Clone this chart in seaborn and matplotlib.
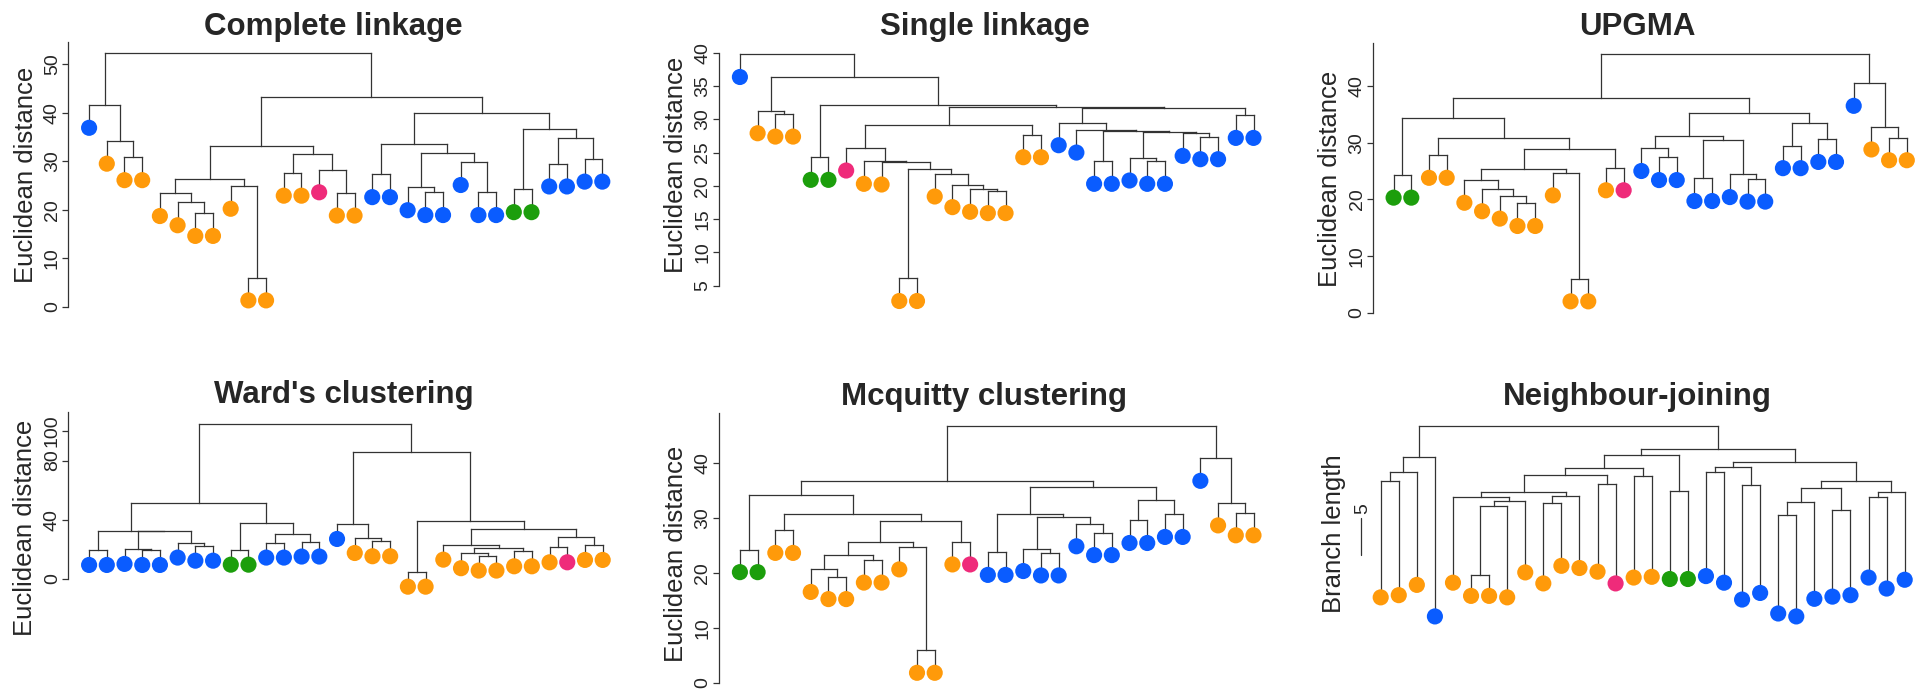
import numpy as np
import pandas as pd
import matplotlib
matplotlib.use("Agg")
import matplotlib.pyplot as plt
import seaborn as sns
from matplotlib.collections import LineCollection

# ---------------- data ----------------
# Trees: internal node = [merge height, left child, right child]; leaf = colour code
# b = blue, o = orange, g = green, p = pink
titles = ["Complete linkage", "Single linkage", "UPGMA",
          "Ward's clustering", "Mcquitty clustering", "Neighbour-joining"]
y_labels = ["Euclidean distance"] * 5 + ["Branch length"]

complete_tree = [52.3,
    [41.6, 'b', [34.2, 'o', [30.8, 'o', 'o']]],
    [43.2,
        [33.1,
            [26.3,
                [23.4, 'o', [21.5, 'o', [19.3, 'o', 'o']]],
                [24.9, 'o', [6.0, 'o', 'o']]],
            [31.4,
                [27.6, 'o', 'o'],
                [28.3, 'p', [23.5, 'o', 'o']]]],
        [40.0,
            [33.5,
                [27.3, 'b', 'b'],
                [31.8,
                    [24.6, 'b', [23.6, 'b', 'b']],
                    [29.8, 'b', [23.6, 'b', 'b']]]],
            [36.7,
                [24.2, 'g', 'g'],
                [34.9, [29.5, 'b', 'b'], [30.5, 'b', 'b']]]]]]
complete_hang = 4.7
complete_ticks = [0, 10, 20, 30, 40, 50]

single_tree = [39.75,
    'b',
    [36.4,
        [31.3, 'o', [30.8, 'o', 'o']],
        [32.2,
            [24.3, 'g', 'g'],
            [31.9,
                [29.1,
                    [25.7, 'p',
                        [23.7, 'o',
                            [23.6, 'o',
                                [22.6, [6.1, 'o', 'o'],
                                    [21.8, 'o', [20.2, 'o', [19.5, 'o', [19.3, 'o', 'o']]]]]]]],
                    [27.7, 'o', 'o']],
                [31.7,
                    [29.5, 'b',
                        [28.4, 'b',
                            [28.3, [23.7, 'b', 'b'],
                                [28.1, [24.2, 'b', [23.7, 'b', 'b']],
                                    [27.9, 'b', [27.4, 'b', 'b']]]]]],
                    [30.6, 'b', 'b']]]]]]
single_hang = 3.4
single_ticks = [5, 10, 15, 20, 25, 30, 35, 40]

upgma_tree = [45.6,
    [37.8,
        [34.3,
            [24.3, 'g', 'g'],
            [30.8,
                [27.8, 'o', 'o'],
                [28.9,
                    [25.4,
                        [23.4, 'o', [21.9, 'o', [20.6, 'o', [19.3, 'o', 'o']]]],
                        [24.7, 'o', [6.0, 'o', 'o']]],
                    [25.6, 'o', 'p']]]],
        [35.3,
            [31.1,
                [29.0, 'b', [27.4, 'b', 'b']],
                [30.5, [23.7, 'b', 'b'], [24.4, 'b', [23.6, 'b', 'b']]]],
            [33.4, [29.5, 'b', 'b'], [30.6, 'b', 'b']]]],
    [40.5, 'b', [32.8, 'o', [30.9, 'o', 'o']]]]
upgma_hang = 4.0
upgma_ticks = [0, 10, 20, 30, 40]

ward_tree = [104.5,
    [51.5,
        [32.5,
            [19.4, 'b', 'b'],
            [32.1,
                [20.1, 'b', [19.4, 'b', 'b']],
                [24.4, 'b', [22.3, 'b', 'b']]]],
        [37.9,
            [19.6, 'g', 'g'],
            [30.2, [24.4, 'b', 'b'], [25.1, 'b', 'b']]]],
    [85.8,
        [37.0, 'b', [27.5, 'o', [25.3, 'o', 'o']]],
        [39.3,
            [4.7, 'o', 'o'],
            [33.4,
                [23.0, 'o', [20.8, [17.2, 'o', [15.6, 'o', 'o']], [18.5, 'o', 'o']]],
                [28.4, [21.2, 'o', 'p'], [22.8, 'o', 'o']]]]]]
ward_hang = 10.1
ward_ticks = [0, 40, 80, 100]

mcquitty_tree = [46.7,
    [36.7,
        [34.2,
            [24.2, 'g', 'g'],
            [30.6,
                [27.7, 'o', 'o'],
                [29.4,
                    [25.5,
                        [23.3, [20.6, 'o', [19.3, 'o', 'o']], [22.3, 'o', 'o']],
                        [24.7, 'o', [5.9, 'o', 'o']]],
                    [25.6, 'o', 'p']]]],
        [35.5,
            [30.7,
                [23.7, 'b', 'b'],
                [30.1,
                    [24.4, 'b', [23.6, 'b', 'b']],
                    [28.9, 'b', [27.3, 'b', 'b']]]],
            [33.3, [29.5, 'b', 'b'], [30.6, 'b', 'b']]]],
    [40.8, 'b', [32.7, 'o', [30.9, 'o', 'o']]]]
mcquitty_hang = 4.1
mcquitty_ticks = [0, 10, 20, 30, 40]

nj_tree = [27.4,
    [23.2, [21.1, [19.8, 'o', 'o'], 'o'], 'b'],
    [24.2,
        [23.4,
            [21.7,
                [20.7,
                    [18.4,
                        [17.7, 'o', [17.2, [16.4, [7.1, 'o', 'o'], 'o'], 'o']],
                        [17.8, [16.8, 'o', 'o'], 'o']],
                    [19.4, 'o', 'p']],
                [20.5, 'o', 'o']],
            [18.5, 'g', 'g']],
        [22.4,
            [21.8, [21.1, 'b', 'b'], [19.3, 'b', 'b']],
            [19.8,
                [18.9, [17.0, [15.2, 'b', 'b'], 'b'], [15.9, 'b', 'b']],
                [18.3, [17.7, 'b', 'b'], 'b']]]]]
nj_leaf_heights = [4.0, 4.3, 5.7, 1.4, 6.0, 4.2, 4.2, 4.0, 7.4, 5.9, 8.3, 8.0, 7.5, 5.9,
                   6.7, 6.8, 6.5, 6.5, 6.9, 6.0, 3.7, 4.6, 1.8, 1.4, 3.8, 4.1, 4.3, 6.7,
                   5.2, 6.4]
nj_scale_bar = 5
nj_scale_bar_bottom = 9.8

# ---------------- styling / layout (pixels in 1930x693 figure) ----------------
palette = {'b': '#0a5cff', 'o': '#ff9a0a', 'g': '#1c9e0c', 'p': '#ef2b7a'}
LINE_COLOR = '#333333'
W, H = 1930, 693

layouts = [
    dict(spine=68.4, leaf1=89.1, leafN=602.3, ya=(0, 306.7), yb=(50, 64.3), top=38, bottom=322,
         spine_lo=0, spine_top=41.7, title=(333.3, 35), ylab=(25.7, 175)),
    dict(spine=718.8, leaf1=739.9, leafN=1253.5, ya=(5, 285.7), yb=(40, 52.7), top=38, bottom=322,
         spine_lo=5, spine_top=52.7, title=(985.3, 35), ylab=(675.7, 165)),
    dict(spine=1373.3, leaf1=1393.6, leafN=1906.8, ya=(0, 312.7), yb=(40, 86.0), top=38, bottom=322,
         spine_lo=0, spine_top=42.7, title=(1637.3, 35), ylab=(1329.7, 179)),
    dict(spine=68.4, leaf1=89.1, leafN=602.7, ya=(0, 578.7), yb=(100, 431.0), top=408, bottom=600,
         spine_lo=0, spine_top=411.7, title=(343.4, 403), ylab=(24.9, 527.5)),
    dict(spine=718.8, leaf1=739.9, leafN=1253.5, ya=(0, 682.7), yb=(40, 462.7), top=410, bottom=692,
         spine_lo=0, spine_top=413.3, title=(984.0, 405), ylab=(676.0, 553.7)),
    dict(spine=1361.3, leaf1=1380.7, leafN=1904.7, ya=(0, 626.7), yb=(20, 480.0), top=410, bottom=640,
         spine_lo=None, spine_top=None, title=(1637.5, 405), ylab=(1333.9, 534)),
]

trees = [complete_tree, single_tree, upgma_tree, ward_tree, mcquitty_tree, nj_tree]
hangs = [complete_hang, single_hang, upgma_hang, ward_hang, mcquitty_hang, None]
ticks = [complete_ticks, single_ticks, upgma_ticks, ward_ticks, mcquitty_ticks, None]
leaf_heights = [None, None, None, None, None, nj_leaf_heights]

sns.set_style("white")
plt.rcParams['font.family'] = ['Liberation Sans', 'DejaVu Sans']

fig = plt.figure(figsize=(W / 100, H / 100), dpi=100)


def walk(node, parent_h, hang, heights, out):
    if isinstance(node, str):
        i = len(out['x'])
        x = i + 1
        y = heights[i] if heights is not None else parent_h - hang
        out['x'].append(x)
        out['y'].append(y)
        out['c'].append(node)
        return x, y
    h = node[0]
    xs, ys = [], []
    for ch in node[1:]:
        cx, cy = walk(ch, h, hang, heights, out)
        xs.append(cx)
        ys.append(cy)
    for cx, cy in zip(xs, ys):
        out['seg'].append([(cx, h), (cx, cy)])
    out['seg'].append([(xs[0], h), (xs[-1], h)])
    return (xs[0] + xs[-1]) / 2.0, h


for tree, hang, tk, lh, lay, title, ylab in zip(trees, hangs, ticks, leaf_heights,
                                                layouts, titles, y_labels):
    out = {'x': [], 'y': [], 'c': [], 'seg': []}
    walk(tree, tree[0], hang, lh, out)
    n = len(out['x'])

    sp = (lay['leafN'] - lay['leaf1']) / (n - 1)
    margin = lay['leaf1'] - lay['spine']
    right_px = lay['leafN'] + margin
    xl = 1 - margin / sp
    xr = n + margin / sp
    (va, pa), (vb, pb) = lay['ya'], lay['yb']
    k = (pa - pb) / (vb - va)
    ytop = va + (pa - lay['top']) / k
    ybot = va - (lay['bottom'] - pa) / k

    ax = fig.add_axes([lay['spine'] / W, 1 - lay['bottom'] / H,
                       (right_px - lay['spine']) / W, (lay['bottom'] - lay['top']) / H])
    ax.set_xlim(xl, xr)
    ax.set_ylim(ybot, ytop)

    ax.add_collection(LineCollection(out['seg'], colors=LINE_COLOR, linewidths=0.9,
                                     capstyle='projecting', zorder=1))
    df = pd.DataFrame({'x': out['x'], 'y': out['y'], 'c': out['c']})
    sns.scatterplot(data=df, x='x', y='y', hue='c', palette=palette, marker='o',
                    s=135, linewidth=0, edgecolor='none', legend=False, ax=ax, zorder=3)

    ax.set_xlabel('')
    ax.set_xticks([])
    for s in ['top', 'right', 'bottom']:
        ax.spines[s].set_visible(False)

    if tk is not None:
        ax.spines['left'].set_color(LINE_COLOR)
        ax.spines['left'].set_linewidth(0.9)
        spine_hi = va + (pa - lay['spine_top']) / k
        ax.spines['left'].set_bounds(lay['spine_lo'], spine_hi)
        ax.set_yticks(tk)
        ax.set_yticklabels([str(t) for t in tk])
        ax.tick_params(axis='y', direction='out', length=4, width=0.9, color=LINE_COLOR,
                       pad=1.5, labelsize=14, left=True)
        for lab in ax.get_yticklabels():
            lab.set_rotation(90)
            lab.set_va('center')
            lab.set_ha('right')
    else:
        ax.spines['left'].set_visible(False)
        ax.set_yticks([])
        # scale bar
        ax.plot([xl, xl], [nj_scale_bar_bottom, nj_scale_bar_bottom + nj_scale_bar],
                color=LINE_COLOR, lw=0.9, clip_on=False)
        ax.text(xl + 0.1, nj_scale_bar_bottom + nj_scale_bar + 0.5, str(nj_scale_bar),
                rotation=90, ha='center', va='bottom', fontsize=14)

    ax.set_ylabel(ylab, fontsize=18.5)
    ax.yaxis.label.set_va('center')
    ax.yaxis.label.set_rotation_mode('anchor')
    ax.yaxis.set_label_coords(lay['ylab'][0] / W, 1 - lay['ylab'][1] / H,
                              transform=fig.transFigure)

    fig.text(lay['title'][0] / W, 1 - lay['title'][1] / H, title, ha='center',
             va='baseline', fontsize=22.5, fontweight='bold')

fig.savefig('out.png', dpi=100)
